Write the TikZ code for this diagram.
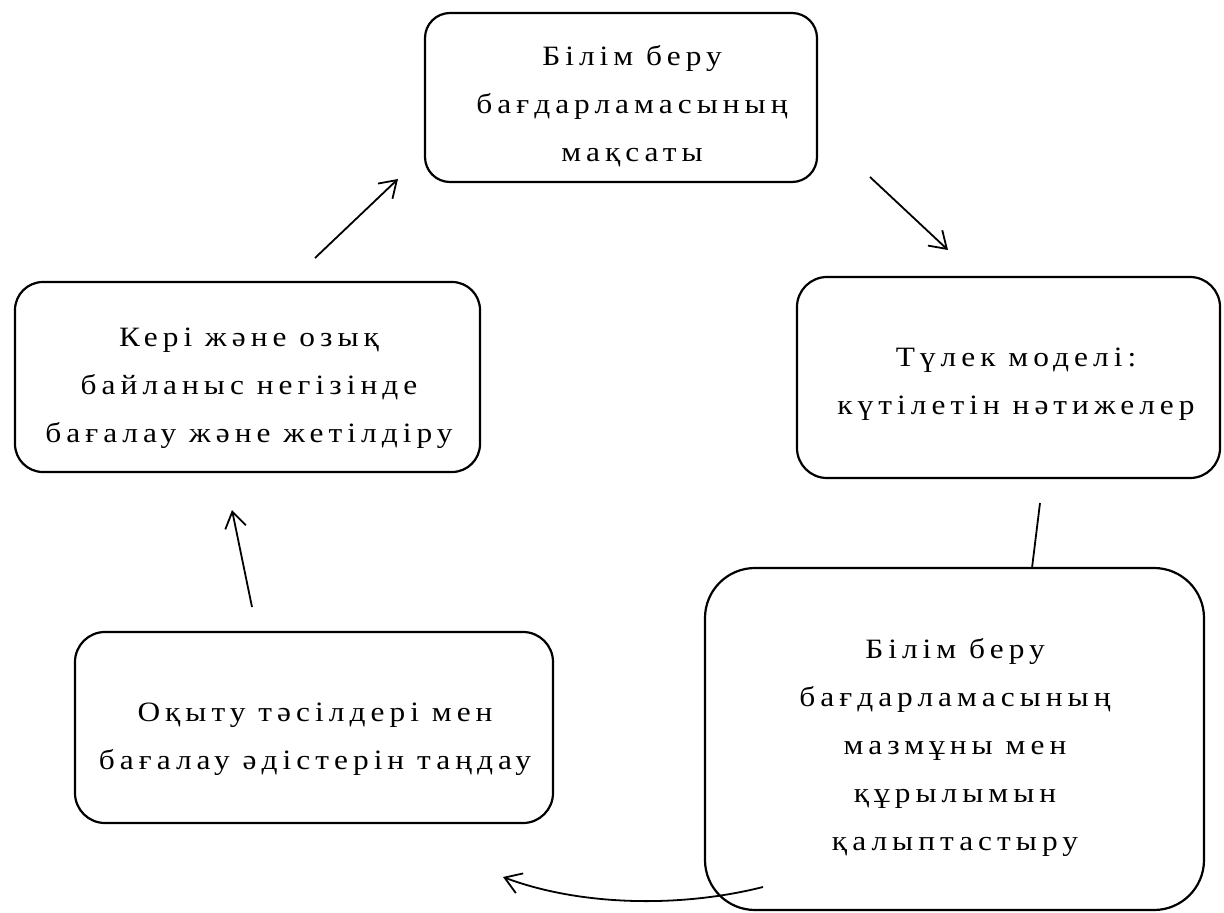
\documentclass[tikz,border=0pt]{standalone}
\usepackage{fontspec}
\setmainfont{Liberation Serif}[LetterSpace=18, FakeStretch=1.12]
\usetikzlibrary{arrows.meta}
\begin{document}
\begin{tikzpicture}[x=1pt,y=-1pt,
  boxr/.style={draw, line width=2.2pt, rounded corners=#1, inner sep=0pt},
  txt/.style={align=center, font=\fontsize{28}{48}\selectfont, inner sep=0pt},
  arr/.style={line width=1.8pt, -{Straight Barb[length=16pt,width=21pt,line width=1.8pt]}},
  conn/.style={line width=1.8pt}]
\useasboundingbox[fill=white] (0,0) rectangle (1224,913);

% boxes
\node[boxr=25pt, minimum width=392pt, minimum height=169pt] (top) at (621,97.5) {};
\node[boxr=28pt, minimum width=465pt, minimum height=190pt] (left) at (247.5,377) {};
\node[boxr=30pt, minimum width=423pt, minimum height=201pt] (right) at (1008.5,377.5) {};
\node[boxr=30pt, minimum width=478pt, minimum height=191pt] (bl) at (314,727.5) {};
\node[boxr=50pt, minimum width=499pt, minimum height=342pt] (big) at (954.5,739) {};

% texts
\node[txt] (topT) at (632,106) {Білім беру\\бағдарламасының\\мақсаты};
\node[txt] (leftT) at (249,388) {Кері және озық\\байланыс негізінде\\бағалау және жетілдіру};
\node[txt] (rightT) at (1016,384) {Түлек моделі:\\күтілетін нәтижелер};
\node[txt] (blT) at (315,739) {Оқыту тәсілдері мен\\бағалау әдістерін таңдау};
\node[txt] (bigT) at (955,747) {Білім беру\\бағдарламасының\\мазмұны мен\\құрылымын\\қалыптастыру};

% connector end points
\coordinate (a1s) at (315,258);
\coordinate (a1e) at (398,179);
\coordinate (a2s) at (870,177);
\coordinate (a2e) at (948,250);
\coordinate (l3s) at (1040,503);
\coordinate (l3e) at (1032,568);
\coordinate (a4s) at (763,887);
\coordinate (a4e) at (503,877);
\coordinate (a5s) at (252,607);
\coordinate (a5e) at (232,510);

\draw[arr] (a1s) -- (a1e);
\draw[arr] (a2s) -- (a2e);
\draw[conn] (l3s) -- (l3e);
\draw[arr] (a4s) .. controls (680,908) and (580,906) .. (a4e);
\draw[arr] (a5s) -- (a5e);
\end{tikzpicture}
\end{document}
